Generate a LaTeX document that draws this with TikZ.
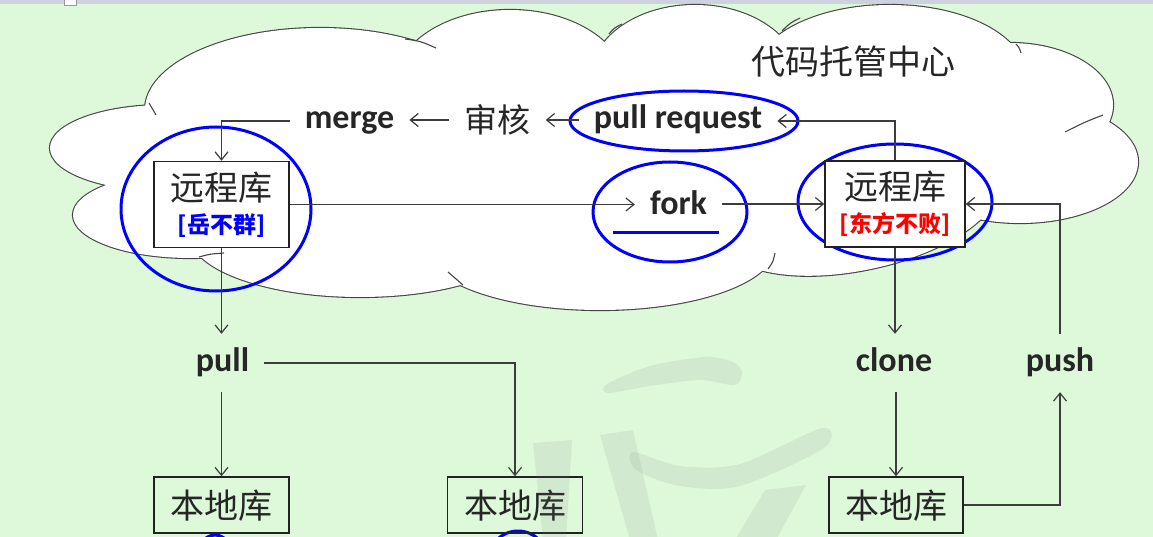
\documentclass[tikz,border=0pt]{standalone}
\usepackage{fontspec}
\setmainfont{Carlito}
\newfontfamily\cjk{Noto Sans CJK SC}
\usetikzlibrary{arrows.meta}
\definecolor{bg}{HTML}{DDF9DA}
\definecolor{linec}{HTML}{3C3C3C}
\definecolor{boxc}{HTML}{222222}
\definecolor{hlblue}{HTML}{0000FF}
\definecolor{hlred}{HTML}{FF0000}
\definecolor{txtc}{HTML}{262626}
\definecolor{cloudc}{HTML}{454545}
\definecolor{topbar}{HTML}{CED1DE}
\begin{document}
\begin{tikzpicture}[x=1pt,y=-1pt,
  conn/.style={draw=linec, line width=1.2pt},
  arr/.style={conn, -{Straight Barb[length=8pt,width=13pt,line width=1.2pt]}},
  lbl/.style={text=txtc, font=\fontsize{34}{34}\selectfont\bfseries, text height=16pt, text depth=0pt, inner xsep=15pt, inner ysep=21pt},
  cjklbl/.style={text=txtc, font=\cjk\fontsize{33}{33}\selectfont, text height=25pt, text depth=0pt, inner xsep=15pt, inner ysep=4pt},
  remotebox/.style={draw=boxc, line width=1.5pt, fill=white, minimum height=86pt, inner sep=0pt, align=center, text=txtc, font=\cjk\fontsize{34}{33}\selectfont},
  localbox/.style={draw=boxc, line width=1.5pt, minimum width=135pt, minimum height=56pt, inner sep=0pt, text=txtc, font=\cjk\fontsize{34}{34}\selectfont, text height=26pt, text depth=0pt},
  hl/.style={draw=hlblue, line width=3pt},
  lobeline/.style={draw=cloudc, line width=2.2pt},
  stub/.style={draw=cloudc, line width=1.1pt},
  wm/.style={fill=black!50, fill opacity=0.12}
]
\useasboundingbox (0,0) rectangle (1153,537);
\clip (0,0) rectangle (1153,537);
\fill[bg] (0,0) rectangle (1153,537);
\fill[topbar] (0,0) rectangle (1153,4);
\draw[fill=white, draw=black!40, line width=0.8pt] (64,-2) rectangle (76,5);

% ---- cloud ----
\foreach \cx/\cy/\rx/\ry in {320/110/175/82, 510/85/115/75, 695/80/105/75, 890/75/135/70,
  1010/105/103/62, 1020/162/118/61, 600/247/175/63, 360/235/170/62, 190/215/117/43, 165/148/115/43}
  {\draw[lobeline] (\cx,\cy) ellipse [x radius=\rx pt, y radius=\ry pt];}
\draw[lobeline, rotate around={12:(860,212)}] (860,212) ellipse [x radius=140pt, y radius=58pt];
\foreach \cx/\cy/\rx/\ry in {320/110/175/82, 510/85/115/75, 695/80/105/75, 890/75/135/70,
  1010/105/103/62, 1020/162/118/61, 600/247/175/63, 360/235/170/62, 190/215/117/43, 165/148/115/43, 600/160/470/100}
  {\fill[white] (\cx,\cy) ellipse [x radius=\rx pt, y radius=\ry pt];}
\fill[white, rotate around={12:(860,212)}] (860,212) ellipse [x radius=140pt, y radius=58pt];
\draw[stub] (405,39) .. controls (420,41) .. (436,48);
\draw[stub] (149,103) .. controls (152,108) .. (156,115);
\draw[stub] (199,257) .. controls (210,254) .. (224,253);
\draw[stub] (448,272) .. controls (456,278) .. (463,285);
\draw[stub] (775,253) .. controls (773,262) .. (768,269);
\draw[stub] (1065,132) .. controls (1085,122) .. (1103,115);
\draw[stub] (1016,44) .. controls (1019,47) .. (1021,53);
\draw[stub] (782,31) .. controls (790,23) .. (800,18);
\draw[stub] (609,34) .. controls (614,28) .. (622,24);

% ---- highlight ellipses ----
\draw[hl] (216,209) ellipse [x radius=95pt, y radius=82pt];
\draw[hl] (895,202) ellipse [x radius=97pt, y radius=58pt];
\draw[hl] (684,121) ellipse [x radius=114pt, y radius=30pt];
\draw[hl] (670,212) ellipse [x radius=77pt, y radius=50pt];
\draw[hl] (518,561) ellipse [x radius=30pt, y radius=30pt];
\draw[hl] (215,563) ellipse [x radius=20pt, y radius=28pt];

% ---- nodes ----
\node[cjklbl, font=\cjk\fontsize{34}{34}\selectfont] (title) at (853,62) {代码托管中心};
\node[remotebox, minimum width=135pt] (lb) at (221.5,204.5)
  {远程库\\{\fontsize{23}{33}\selectfont\bfseries\color{hlblue}[岳不群]}};
\node[remotebox, minimum width=140pt] (rb) at (895,204)
  {远程库\\{\fontsize{23}{33}\selectfont\bfseries\color{hlred}[东方不败]}};
\node[lbl] (merge) at (349.5,121) {merge};
\node[cjklbl] (shenhe) at (497.5,120) {审核};
\node[lbl] (preq) at (678,121) {pull request};
\node[lbl] (fork) at (678.5,207) {fork};
\draw[draw=hlblue, line width=3pt] (613,233) -- (719,233);
\node[lbl] (pull) at (222.5,363) {pull};
\node[lbl] (clone) at (894,363) {clone};
\node[lbl] (push) at (1060,363) {push};
\node[localbox] (l1) at (221.5,505) {本地库};
\node[localbox] (l2) at (515,505) {本地库};
\node[localbox, minimum width=134pt] (l3) at (896,505) {本地库};

% ---- connectors ----
\draw[arr] (merge.west) -| (lb.north);
\draw[arr] (shenhe.west) -- (shenhe.west -| merge.east);
\draw[arr] (preq.west |- shenhe.east) -- (shenhe.east);
\draw[arr] (rb.north) |- (preq.east);
\draw[arr] (lb.east) -- (lb.east -| fork.west);
\draw[arr] (fork.east |- rb.west) -- (rb.west);
\draw[arr] (push.north) |- (rb.east);
\draw[arr] (lb.south) -- (lb.south |- pull.north);
\draw[arr] (pull.south -| l1.north) -- (l1.north);
\draw[arr] (pull.east) -| (l2.north);
\draw[arr] (rb.south) -- (rb.south |- clone.north);
\draw[arr] (clone.south -| l3.north) -- (l3.north);
\draw[arr] (l3.east) -| (push.south);

% ---- faint watermark ----
\fill[wm] (533,443) -- (572,440) -- (566,540) -- (543,540) -- cycle;
\fill[wm] plot[smooth cycle] coordinates {(607,384) (650,366) (705,357) (733,362) (742,372) (735,385) (700,380) (650,386) (608,393)};
\fill[wm] (600,435) -- (633,430) -- (658,540) -- (630,540) -- cycle;
\fill[wm] plot[smooth cycle] coordinates {(633,452) (680,466) (740,464) (822,428) (824,448) (740,486) (680,486) (636,470)};
\fill[wm] (765,490) -- (806,485) -- (776,540) -- (735,540) -- cycle;
\end{tikzpicture}
\end{document}
